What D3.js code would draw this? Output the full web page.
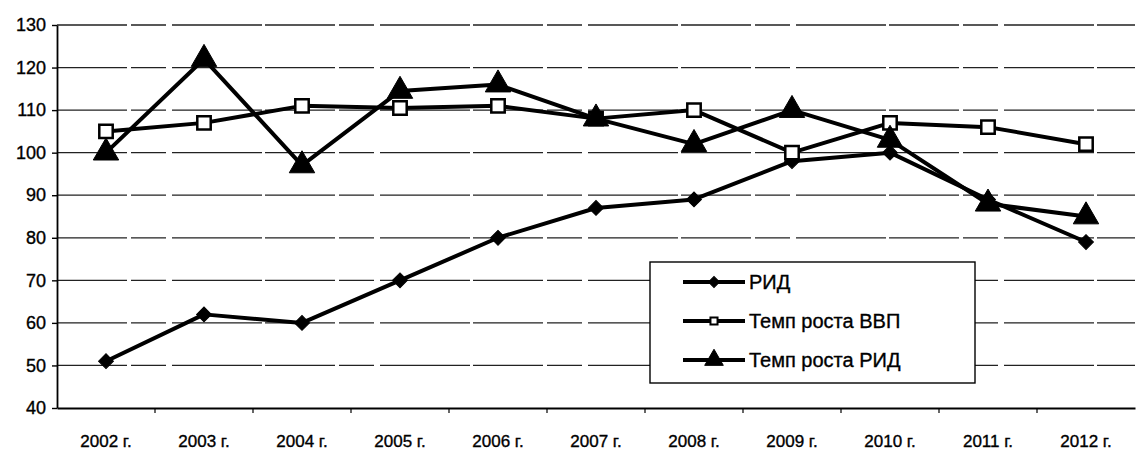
<!DOCTYPE html>
<html>
<head>
<meta charset="utf-8">
<script src="https://cdn.jsdelivr.net/npm/d3@7"></script>
<style>
    body { margin: 0; background: #fff; }
    text { font-family: "Liberation Sans", Arial, sans-serif; stroke: #000; stroke-width: 0.35px; }
</style>
</head>
<body>
<svg id="chart" width="1142" height="453"></svg>
<script>
// Data
let years = ["2002 г.", "2003 г.", "2004 г.", "2005 г.", "2006 г.", "2007 г.", "2008 г.", "2009 г.", "2010 г.", "2011 г.", "2012 г."];
let rid = [51, 62, 60, 70, 80, 87, 89, 98, 100, 89, 79];
let gdpGrowth = [105, 107, 111, 110.5, 111, 108, 110, 100, 107, 106, 102];
let ridGrowth = [100, 122, 97, 114.5, 116, 108, 102, 110, 103, 88, 85];
let yTicks = [40, 50, 60, 70, 80, 90, 100, 110, 120, 130];
let seriesNames = ["РИД", "Темп роста ВВП", "Темп роста РИД"];

let plotLeft = 57, plotRight = 1135, plotTop = 25, plotBottom = 408;

let svg = d3.select("#chart");

let x = d3.scaleBand()
    .domain(years)
    .range([plotLeft, plotRight]);

let y = d3.scaleLinear()
    .domain([40, 130])
    .range([plotBottom, plotTop]);

// Grid lines
svg.append("g")
    .selectAll("line")
    .data(yTicks.slice(1))
    .join("line")
    .attr("x1", plotLeft)
    .attr("x2", plotRight)
    .attr("y1", d => y(d))
    .attr("y2", d => y(d))
    .attr("stroke", "#222")
    .attr("stroke-width", 1.3)
    .attr("stroke-dasharray", "70,4,35,6,90,3");

// Y axis
let yAxis = svg.append("g")
    .attr("transform", "translate(" + plotLeft + ",0)")
    .call(d3.axisLeft(y).tickValues(yTicks).tickSize(5).tickSizeOuter(0))
    .attr("font-size", 18);
yAxis.select(".domain").attr("stroke", "#000").attr("stroke-width", 1.8);
yAxis.selectAll("line").attr("stroke", "#000").attr("stroke-width", 1.4);
yAxis.selectAll("text")
    .attr("fill", "#000")
    .attr("x", -11);

// X axis
let xAxis = svg.append("g")
    .attr("transform", "translate(0," + plotBottom + ")")
    .call(d3.axisBottom(x).tickSize(0).tickSizeOuter(0))
    .attr("font-size", 17);
xAxis.select(".domain").attr("stroke", "#000").attr("stroke-width", 1.8);
xAxis.selectAll("text")
    .attr("fill", "#000")
    .attr("dy", 0)
    .attr("y", 39);
// ticks between categories
svg.append("g")
    .selectAll("line")
    .data(years.slice(1))
    .join("line")
    .attr("x1", d => x(d))
    .attr("x2", d => x(d))
    .attr("y1", plotBottom)
    .attr("y2", plotBottom + 5)
    .attr("stroke", "#000")
    .attr("stroke-width", 1.2);

let line = d3.line()
    .x((d, i) => x(years[i]) + x.bandwidth() / 2)
    .y(d => y(d));

let sets = [rid, gdpGrowth, ridGrowth];
let shapes = [d3.symbolSquare, d3.symbolSquare, d3.symbolTriangle];
let sizes = [110, 180, 280];
let rotations = [45, 0, 0];
let fills = ["#000", "#fff", "#000"];

sets.forEach((set, k) => {
    svg.append("path")
        .datum(set)
        .attr("d", line)
        .attr("fill", "none")
        .attr("stroke", "#000")
        .attr("stroke-width", 4)
        .attr("stroke-linejoin", "round");
});

sets.forEach((set, k) => {
    svg.append("g")
        .selectAll("path")
        .data(set)
        .join("path")
        .attr("d", d3.symbol().type(shapes[k]).size(sizes[k]))
        .attr("transform", (d, i) => "translate(" + (x(years[i]) + x.bandwidth() / 2) + "," + y(d) + ") rotate(" + rotations[k] + ")")
        .attr("fill", fills[k])
        .attr("stroke", "#000")
        .attr("stroke-width", k === 1 ? 2.5 : 1);
});

// Legend
let legend = svg.append("g").attr("transform", "translate(650,262)");
legend.append("rect")
    .attr("width", 325)
    .attr("height", 121)
    .attr("fill", "#fff")
    .attr("stroke", "#000")
    .attr("stroke-width", 1.4);

let legendSizes = [60, 50, 150];
seriesNames.forEach((name, k) => {
    let ly = 20 + k * 39;
    legend.append("line")
        .attr("x1", 33).attr("x2", 95)
        .attr("y1", ly).attr("y2", ly)
        .attr("stroke", "#000")
        .attr("stroke-width", 4);
    legend.append("path")
        .attr("d", d3.symbol().type(shapes[k]).size(legendSizes[k]))
        .attr("transform", "translate(64," + ly + ") rotate(" + rotations[k] + ")")
        .attr("fill", fills[k])
        .attr("stroke", "#000")
        .attr("stroke-width", k === 1 ? 2 : 1);
    legend.append("text")
        .attr("x", 99)
        .attr("y", ly + 7)
        .attr("font-size", 20)
        .text(name);
});
</script>
</body>
</html>
